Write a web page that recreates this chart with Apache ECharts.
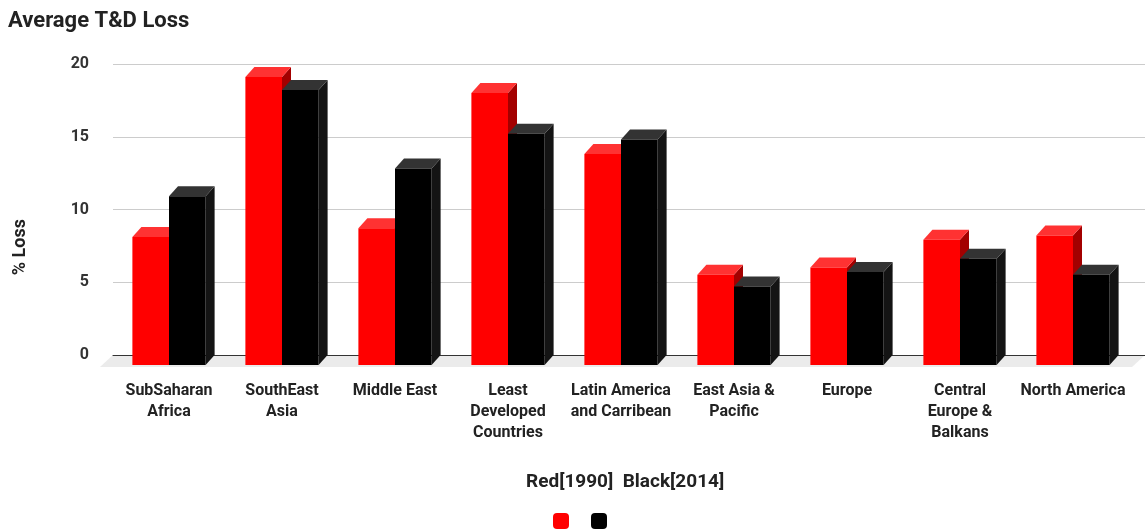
<!DOCTYPE html>
<html>
<head>
<meta charset="utf-8">
<title>Average T&amp;D Loss</title>
<script src="https://cdn.jsdelivr.net/npm/echarts@6/dist/echarts.min.js"></script>
<style>
  html, body { margin: 0; padding: 0; background: #ffffff; }
  #chart { width: 1145px; height: 530px; }
</style>
</head>
<body>
<div id="chart"></div>
<script>
// Regions (x-axis categories)
const regions = [
  'SubSaharan\nAfrica',
  'SouthEast\nAsia',
  'Middle East',
  'Least\nDeveloped\nCountries',
  'Latin America\nand Carribean',
  'East Asia &\nPacific',
  'Europe',
  'Central\nEurope &\nBalkans',
  'North America'
];

// Average transmission & distribution loss, % of output
const loss1990 = [8.8, 19.8, 9.4, 18.7, 14.5, 6.2, 6.7, 8.6, 8.9];
const loss2014 = [11.6, 18.9, 13.5, 15.9, 15.5, 5.4, 6.4, 7.3, 6.2];

// Value axis ticks
const yTicks = [0, 5, 10, 15, 20];

const FONT = 'Roboto, "Noto Sans", sans-serif';

// Depth of the extruded columns and of the floor, in pixels
const BAR_DX = 9, BAR_DY = 10;
const FLOOR_DX = 13, FLOOR_DY = 12;

const faces = [
  { front: '#ff0000', top: '#ff3232', side: '#a30000' },
  { front: '#000000', top: '#333333', side: '#141414' }
];

function makeBarRenderer(slot) {
  return function (params, api) {
    const cat = api.value(0);
    const v = api.value(1);
    const base = api.coord([cat, 0]);
    const peak = api.coord([cat, v]);
    const band = api.size([1, 0])[0];
    const w = band * 0.324;
    const x0 = base[0] - w + slot * w;
    const yb = base[1] + BAR_DY;
    const yt = peak[1] + BAR_DY;
    const c = faces[slot];
    return {
      type: 'group',
      children: [
        {
          type: 'polygon',
          shape: { points: [[x0 + w, yt], [x0 + w + BAR_DX, yt - BAR_DY], [x0 + w + BAR_DX, yb - BAR_DY], [x0 + w, yb]] },
          style: { fill: c.side }
        },
        {
          type: 'polygon',
          shape: { points: [[x0, yt], [x0 + w, yt], [x0 + w + BAR_DX, yt - BAR_DY], [x0 + BAR_DX, yt - BAR_DY]] },
          style: { fill: c.top }
        },
        {
          type: 'rect',
          shape: { x: x0, y: yt, width: w, height: yb - yt },
          style: { fill: c.front }
        }
      ]
    };
  };
}

function renderFloor(params, api) {
  const cs = params.coordSys;
  const yBack = cs.y + cs.height;
  return {
    type: 'polygon',
    shape: {
      points: [
        [cs.x, yBack],
        [cs.x + cs.width, yBack],
        [cs.x + cs.width - FLOOR_DX, yBack + FLOOR_DY],
        [cs.x - FLOOR_DX, yBack + FLOOR_DY]
      ]
    },
    style: { fill: '#ebebeb' }
  };
}

const chart = echarts.init(document.getElementById('chart'), null, { renderer: 'canvas' });

chart.setOption({
  animation: false,
  backgroundColor: '#ffffff',
  textStyle: { fontFamily: FONT },
  title: [
    {
      text: 'Average T&D Loss',
      left: 8, top: 10, padding: 0,
      textStyle: { fontFamily: FONT, fontSize: 22, fontWeight: 'bold', color: '#222222' }
    },
    {
      text: 'Red[1990]  Black[2014]',
      left: 526, top: 473, padding: 0,
      textStyle: { fontFamily: FONT, fontSize: 19, fontWeight: 'bold', color: '#222222' }
    }
  ],
  legend: {
    left: 553, top: 513, padding: 0,
    icon: 'roundRect',
    itemWidth: 16, itemHeight: 16, itemGap: 22,
    formatter: function () { return ''; },
    data: [
      { name: '1990', itemStyle: { color: faces[0].front } },
      { name: '2014', itemStyle: { color: faces[1].front } }
    ]
  },
  graphic: [
    {
      type: 'text',
      left: 11, top: 219,
      rotation: Math.PI / 2,
      style: { text: '% Loss', font: 'bold 18px ' + FONT, fill: '#222222' }
    }
  ],
  grid: [
    // back wall: gridlines and value labels
    { left: 113, right: 0, top: 64, bottom: 175 },
    // column area: front faces of the categories
    { left: 112.5, right: 15.5, top: 64, bottom: 175 }
  ],
  xAxis: [
    {
      gridIndex: 0, type: 'value', min: 0, max: 1,
      axisLine: { show: true, onZero: false, lineStyle: { color: '#333333', width: 1 } },
      axisTick: { show: false }, axisLabel: { show: false }, splitLine: { show: false }
    },
    {
      gridIndex: 1, type: 'category', data: regions,
      axisLine: { show: false }, axisTick: { show: false }, splitLine: { show: false },
      axisLabel: {
        interval: 0, margin: 25,
        fontFamily: FONT, fontSize: 16, fontWeight: 'bold', color: '#222222', lineHeight: 21
      }
    }
  ],
  yAxis: [
    {
      gridIndex: 0, type: 'value', min: yTicks[0], max: yTicks[yTicks.length - 1], interval: 5,
      axisLine: { show: false }, axisTick: { show: false },
      axisLabel: { margin: 24, fontFamily: FONT, fontSize: 16, fontWeight: 'bold', color: '#333333' },
      splitLine: { show: true, lineStyle: { color: '#cccccc', width: 1 } }
    },
    {
      gridIndex: 1, type: 'value', min: yTicks[0], max: yTicks[yTicks.length - 1],
      show: false, splitLine: { show: false }
    }
  ],
  series: [
    {
      name: 'floor', type: 'custom', xAxisIndex: 0, yAxisIndex: 0,
      renderItem: renderFloor, data: [[0, 0]], z: 0, silent: true
    },
    {
      name: '1990', type: 'custom', xAxisIndex: 1, yAxisIndex: 1,
      itemStyle: { color: faces[0].front },
      renderItem: makeBarRenderer(0),
      encode: { x: 0, y: 1 },
      data: loss1990.map(function (v, i) { return [i, v]; }),
      z: 3
    },
    {
      name: '2014', type: 'custom', xAxisIndex: 1, yAxisIndex: 1,
      itemStyle: { color: faces[1].front },
      renderItem: makeBarRenderer(1),
      encode: { x: 0, y: 1 },
      data: loss2014.map(function (v, i) { return [i, v]; }),
      z: 4
    }
  ]
});
</script>
</body>
</html>
